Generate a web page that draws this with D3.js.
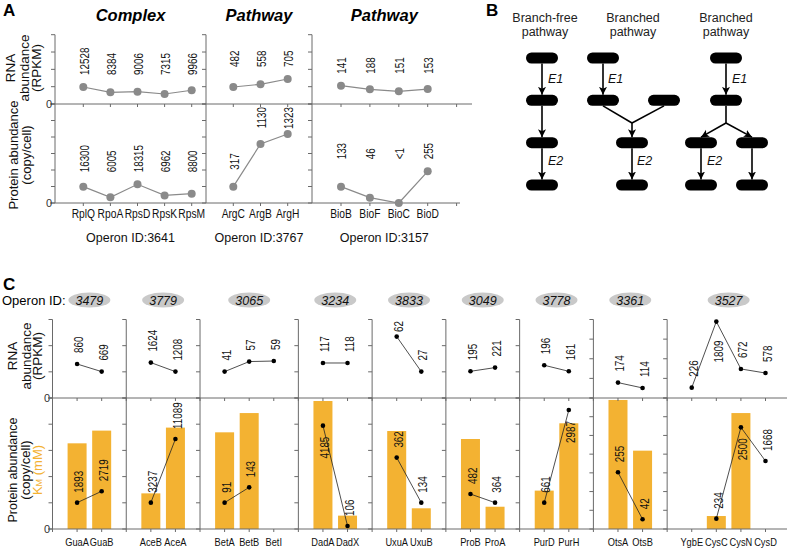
<!DOCTYPE html>
<html><head><meta charset="utf-8">
<script src="https://cdn.jsdelivr.net/npm/d3@7"></script>
<style>body{margin:0;background:#fff} svg text{font-family:Arial,'Liberation Sans',sans-serif}</style>
</head><body>
<script>
// ---------------- Panel A data ----------------
const aTitles = ['Complex', 'Pathway', 'Pathway'];
const aOperons = ['Operon ID:3641', 'Operon ID:3767', 'Operon ID:3157'];
const aGenes = [['RplQ','RpoA','RpsD','RpsK','RpsM'], ['ArgC','ArgB','ArgH'], ['BioB','BioF','BioC','BioD']];
const aRnaLabels = [['12528','8384','9006','7315','9966'], ['482','558','705'], ['141','188','151','153']];
// plotted level, % of panel height
const aRnaLevel = [[24.5,16.9,17.8,14.4,19.8], [24.5,28.4,36.1], [26.4,21.2,18.3,21.6]];
const aProtLabels = [['16300','6005','18315','6962','8800'], ['317','1130','1323'], ['133','46','<1','255']];
const aProtLevel = [[16.5,5.8,18.9,7.7,9.4], [16.5,59.6,69.7], [16.5,5.4,0,32]];

// ---------------- Panel B data ----------------
const bTitles = [['Branch-free','pathway'], ['Branched','pathway'], ['Branched','pathway']];
const bEnzymes = ['E1', 'E2'];

// ---------------- Panel C data ----------------
const cOperons = ['3479','3779','3065','3234','3833','3049','3778','3361','3527'];
const cGenes = [['GuaA','GuaB'],['AceB','AceA'],['BetA','BetB','BetI'],['DadA','DadX'],['UxuA','UxuB'],['ProB','ProA'],['PurD','PurH'],['OtsA','OtsB'],['YgbE','CysC','CysN','CysD']];
const cRnaLabels = [['860','669'],['1624','1208'],['41','57','59'],['117','118'],['62','27'],['195','221'],['196','161'],['174','114'],['226','1809','672','578']];
const cRnaLevel = [[43.3,33.6],[45.1,33.6],[33.6,46.4,47.1],[44.6,44.6],[78.2,33.6],[34,38.7],[41.7,34],[19.6,12.8],[13.2,97.3,37,31.8]];
const cProtLabels = [['1893','2719'],['3237','11089'],['91','143',null],['4185','106'],['362','134'],['482','364'],['661','2987'],['255','42'],[null,'234','2500','1668']];
const cProtLevel = [[20.1,28.8],[20.1,68.7],[20.1,31.8,null],[78.9,2.3],[54.5,20.1],[26.7,20.1],[20.1,90.8],[43.3,7.4],[null,7.9,77.6,51.9]];
const cKmLevel = [[65.4,75.1],[27.2,77.4],[73.8,88.5,null],[97.7,10.2],[74.8,15.8],[68.7,17.0],[29.3,80.7],[98.5,59.8],[null,9.9,88.5,null]];
const cRnaTickCount = [3,3,3,3,3,3,3,4,4];
const cProtTickCount = [5,5,5,5,5,5,5,7,7];

// ---------------- drawing ----------------
const W = 788, H = 550;
const AX = '#6a6a6a';
const ORANGE = '#F3B232';
const SQ = 0.82; // horizontal condensing of narrow labels
const svg = d3.select('body').append('svg').attr('width', W).attr('height', H);

function line(g, x1, y1, x2, y2, col, w) {
  return g.append('line').attr('x1', x1).attr('y1', y1).attr('x2', x2).attr('y2', y2)
    .attr('stroke', col || AX).attr('stroke-width', w || 1);
}
function rotText(g, x, y, str, size, anchor, fill) {
  return g.append('text').attr('transform', `translate(${x},${y}) rotate(-90)`)
    .attr('text-anchor', anchor || 'middle').attr('font-size', size)
    .attr('fill', fill || '#111').text(str);
}
function narrowH(g, x, y, str, size) {
  return g.append('text').attr('transform', `translate(${x},${y}) scale(${SQ},1)`)
    .attr('text-anchor', 'middle').attr('font-size', size).attr('fill', '#111').text(str);
}
function narrowV(g, x, str, size, placeFn) {
  const t = g.append('text').attr('text-anchor', 'start').attr('font-size', size)
    .attr('dy', '0.35em').attr('fill', '#111').text(str);
  const len = t.node().getComputedTextLength() * SQ;
  const y = placeFn(len);
  t.attr('transform', `translate(${x},${y}) rotate(-90) scale(${SQ},1)`);
  return t;
}

// ===== Panel A =====
const gA = svg.append('g');
gA.append('text').attr('x', 3).attr('y', 16).attr('font-size', 17).attr('font-weight', 'bold').text('A');
const aTop = 34.7, aMid = 104, aBot = 203;
const aYr = d3.scaleLinear().domain([0, 100]).range([aMid, aTop]);
const aYp = d3.scaleLinear().domain([0, 100]).range([aBot, aMid]);
const aAxisX = [55, 206, 312];
const aRegionEnd = [206, 312, 456.7];
const aRanges = [[83.3, 191.7], [233.3, 287.7], [341, 427.7]];
const aX = aGenes.map((g, i) => d3.scalePoint().domain(g).range(aRanges[i]));

line(gA, 50, aYr(0), 472, aYr(0));
line(gA, 50, aYp(0), 460, aYp(0));
aAxisX.forEach(x => {
  line(gA, x, aYr(100), x, aYp(0));
  d3.range(0, 101, 25).forEach(v => line(gA, x - 4, aYr(v), x, aYr(v)));
  d3.range(7).forEach(k => line(gA, x - 4, aYp(k * 100 / 6), x, aYp(k * 100 / 6)));
});
[aYr(0), aYp(0)].forEach(y => gA.append('text').attr('x', 52).attr('y', y + 4)
  .attr('text-anchor', 'end').attr('font-size', 11).attr('fill', '#333').text('0'));

[['RNA', 15], ['abundance', 29], ['(RPKM)', 41]].forEach(([t, x]) => rotText(gA, x, 68, t, 13.5));
[['Protein abundance', 18], ['(copy/cell)', 31]].forEach(([t, x]) => rotText(gA, x, 155, t, 13));

function placeA(ys, cap) {
  const each = ys.map(y => Math.min(y - 12, cap));
  const gmin = d3.min(each), dmin = d3.min(ys);
  return ys.map(y => (y - dmin > 40) ? Math.min(y - 17, cap) : gmin);
}

aGenes.forEach((genes, gi) => {
  const x = aX[gi];
  const cxm = (aAxisX[gi] + aRegionEnd[gi]) / 2;
  gA.append('text').attr('x', cxm).attr('y', 21).attr('text-anchor', 'middle')
    .attr('font-size', 16.5).attr('font-weight', 'bold').attr('font-style', 'italic').text(aTitles[gi]);
  gA.append('text').attr('x', cxm).attr('y', 242).attr('text-anchor', 'middle')
    .attr('font-size', 12.5).attr('fill', '#111').text(aOperons[gi]);
  const tickXs = genes.map(n => x(n));
  if (gi === 2) tickXs.push(x(genes[genes.length - 1]) + x.step());
  tickXs.forEach(tx => { line(gA, tx, aYr(0), tx, aYr(0) + 3); line(gA, tx, aYp(0), tx, aYp(0) + 3); });
  genes.forEach(n => narrowH(gA, x(n), 218, n, 12.5));

  [[aRnaLevel[gi], aRnaLabels[gi], aYr, 75, aTop + 8], [aProtLevel[gi], aProtLabels[gi], aYp, 173, aMid + 3]]
    .forEach(([vals, labs, ys, cap, minTop]) => {
      const pts = genes.map((n, i) => [x(n), ys(vals[i])]);
      gA.append('path').attr('d', d3.line()(pts)).attr('fill', 'none').attr('stroke', '#8a8a8a').attr('stroke-width', 1.2);
      gA.selectAll(null).data(pts).enter().append('circle').attr('cx', d => d[0]).attr('cy', d => d[1])
        .attr('r', 4).attr('fill', '#8a8a8a');
      const ly = placeA(pts.map(p => p[1]), cap);
      pts.forEach((p, i) => narrowV(gA, p[0] + 1, labs[i], 12, len => Math.max(ly[i], minTop + len)));
    });
});

// ===== Panel B =====
const gB = svg.append('g');
gB.append('text').attr('x', 486).attr('y', 16).attr('font-size', 17).attr('font-weight', 'bold').text('B');
const defs = svg.append('defs');
defs.append('marker').attr('id', 'arr').attr('markerUnits', 'userSpaceOnUse')
  .attr('markerWidth', 9).attr('markerHeight', 9).attr('refX', 8).attr('refY', 4.5).attr('orient', 'auto')
  .append('path').attr('d', 'M0,0.5 L8,4.5 L0,8.5 L2,4.5 Z').attr('fill', '#000');
const bColX = [542, 633, 726];
const bRowY = d3.scalePoint().domain([0, 1, 2, 3]).range([58, 185]);
const pillW = 32, pillH = 11;
bTitles.forEach((t, i) => t.forEach((s, j) => gB.append('text').attr('x', bColX[i] + (i === 0 ? 3 : 0))
  .attr('y', 22 + j * 14).attr('text-anchor', 'middle').attr('font-size', 12.5).attr('fill', '#222').text(s)));
const bNodes = [[0,0,0],[0,0,1],[0,0,2],[0,0,3],
  [1,-30,0],[1,-30,1],[1,31,1],[1,-1,2],[1,-1,3],
  [2,0,0],[2,0,1],[2,-25,2],[2,26,2],[2,-25,3],[2,26,3]];
bNodes.forEach(([c, o, r]) => gB.append('rect').attr('x', bColX[c] + o - pillW / 2).attr('y', bRowY(r) - pillH / 2)
  .attr('width', pillW).attr('height', pillH).attr('rx', 5.5).attr('fill', '#000'));
const yb = r => bRowY(r) + pillH / 2, yt = r => bRowY(r) - pillH / 2;
const mergeY = 123;
function arrow(x1, y1, x2, y2) {
  gB.append('line').attr('x1', x1).attr('y1', y1).attr('x2', x2).attr('y2', y2)
    .attr('stroke', '#000').attr('stroke-width', 1.6).attr('marker-end', 'url(#arr)');
}
function seg(x1, y1, x2, y2) { line(gB, x1, y1, x2, y2, '#000', 1.6); }
[0, 1, 2].forEach(r => arrow(bColX[0], yb(r), bColX[0], yt(r + 1)));
arrow(bColX[1] - 30, yb(0), bColX[1] - 30, yt(1));
seg(bColX[1] - 30, yb(1), bColX[1] - 1, mergeY);
seg(bColX[1] + 31, yb(1), bColX[1] - 1, mergeY);
arrow(bColX[1] - 1, mergeY, bColX[1] - 1, yt(2));
arrow(bColX[1] - 1, yb(2), bColX[1] - 1, yt(3));
arrow(bColX[2], yb(0), bColX[2], yt(1));
seg(bColX[2], yb(1), bColX[2], mergeY);
arrow(bColX[2], mergeY, bColX[2] - 25, yt(2));
arrow(bColX[2], mergeY, bColX[2] + 26, yt(2));
arrow(bColX[2] - 25, yb(2), bColX[2] - 25, yt(3));
arrow(bColX[2] + 26, yb(2), bColX[2] + 26, yt(3));
[[bColX[0] + 6, 0], [bColX[1] - 25, 0], [bColX[2] + 6, 0], [bColX[0] + 6, 1], [bColX[1] + 4, 1], [bColX[2] - 19, 1]]
  .forEach(([x, e]) => gB.append('text').attr('x', x).attr('y', e === 0 ? 83 : 165)
    .attr('font-size', 12.5).attr('font-style', 'italic').attr('fill', '#111').text(bEnzymes[e]));

// ===== Panel C =====
const gC = svg.append('g');
gC.append('text').attr('x', 3).attr('y', 290).attr('font-size', 17).attr('font-weight', 'bold').text('C');
gC.append('text').attr('x', 2).attr('y', 305).attr('font-size', 13).text('Operon ID:');
const cTop = 319.5, cMid = 398, cBot = 529;
const cYr = d3.scaleLinear().domain([0, 100]).range([cMid, cTop]);
const cYp = d3.scaleLinear().domain([0, 100]).range([cBot, cMid]);
const slots = ['start'];
cGenes.forEach((g, gi) => { if (gi > 0) slots.push('gap' + gi); g.forEach(n => slots.push(n)); });
const cX = d3.scalePoint().domain(slots).range([52.5, 765.5]);
const barW = 19;

cGenes.forEach((genes, gi) => genes.forEach((n, i) => {
  const v = cKmLevel[gi][i];
  if (v == null) return;
  gC.append('rect').attr('x', cX(n) - barW / 2).attr('y', cYp(v)).attr('width', barW)
    .attr('height', cYp(0) - cYp(v)).attr('fill', ORANGE);
}));

line(gC, 48, cYr(0), 787, cYr(0));
line(gC, 48, cYp(0), 787, cYp(0));
[cYr(0), cYp(0)].forEach(y => gC.append('text').attr('x', 50).attr('y', y + 4)
  .attr('text-anchor', 'end').attr('font-size', 11).attr('fill', '#333').text('0'));

[['RNA', 17], ['abundance', 31], ['(RPKM)', 42]].forEach(([t, x]) => rotText(gC, x, 356, t, 13.5));
rotText(gC, 17, 470, 'Protein abundance', 12.5);
rotText(gC, 30, 470, '(copy/cell)', 13);
const km = rotText(gC, 42, 470, '', 13, 'middle', ORANGE);
km.append('tspan').text('K');
km.append('tspan').attr('font-size', 9).text('M');
km.append('tspan').text(' (mM)');

function placeUp(dotY, len) {
  let s = dotY - 11;
  if (s - len < 321) { s = 321 + len; if (s > dotY - 3) s = dotY + 19 + len; }
  return s;
}
function placeLow(dotY, len) {
  let s = dotY - 10;
  if (s - len < 400) s = dotY + 11 + len;
  return s;
}

cGenes.forEach((genes, gi) => {
  const ax = cX(gi === 0 ? 'start' : 'gap' + gi);
  line(gC, ax, cTop, ax, cYp(0));
  const nr = cRnaTickCount[gi], np = cProtTickCount[gi];
  d3.range(nr + 1).forEach(k => line(gC, ax - 4, cYr(k * 100 / nr), ax, cYr(k * 100 / nr)));
  d3.range(np + 1).forEach(k => line(gC, ax - 4, cYp(k * 100 / np), ax, cYp(k * 100 / np)));
  [ax, ...genes.map(n => cX(n))].forEach(tx => {
    line(gC, tx, cYr(0), tx, cYr(0) + 3);
    line(gC, tx, cYp(0), tx, cYp(0) + 3);
  });
  const mx = d3.mean(genes, n => cX(n));
  gC.append('ellipse').attr('cx', mx).attr('cy', 300).attr('rx', 21).attr('ry', 7.5).attr('fill', '#c9c9c9');
  gC.append('text').attr('x', mx).attr('y', 304.5).attr('text-anchor', 'middle').attr('font-size', 12.5)
    .attr('font-style', 'italic').attr('fill', '#111').text(cOperons[gi]);
  genes.forEach(n => narrowH(gC, cX(n), 546, n, 11.3));

  [[cRnaLevel[gi], cRnaLabels[gi], cYr, placeUp], [cProtLevel[gi], cProtLabels[gi], cYp, placeLow]].forEach(([vals, labs, ys, place]) => {
    const pts = [];
    genes.forEach((n, i) => { if (vals[i] != null) pts.push([cX(n), ys(vals[i]), labs[i]]); });
    gC.append('path').attr('d', d3.line()(pts.map(p => [p[0], p[1]]))).attr('fill', 'none')
      .attr('stroke', '#222').attr('stroke-width', 0.8);
    pts.forEach(p => gC.append('circle').attr('cx', p[0]).attr('cy', p[1]).attr('r', 2.3).attr('fill', '#000'));
    pts.forEach(p => narrowV(gC, p[0] + 2, p[2], 12, len => place(p[1], len)));
  });
});
</script>
</body></html>
